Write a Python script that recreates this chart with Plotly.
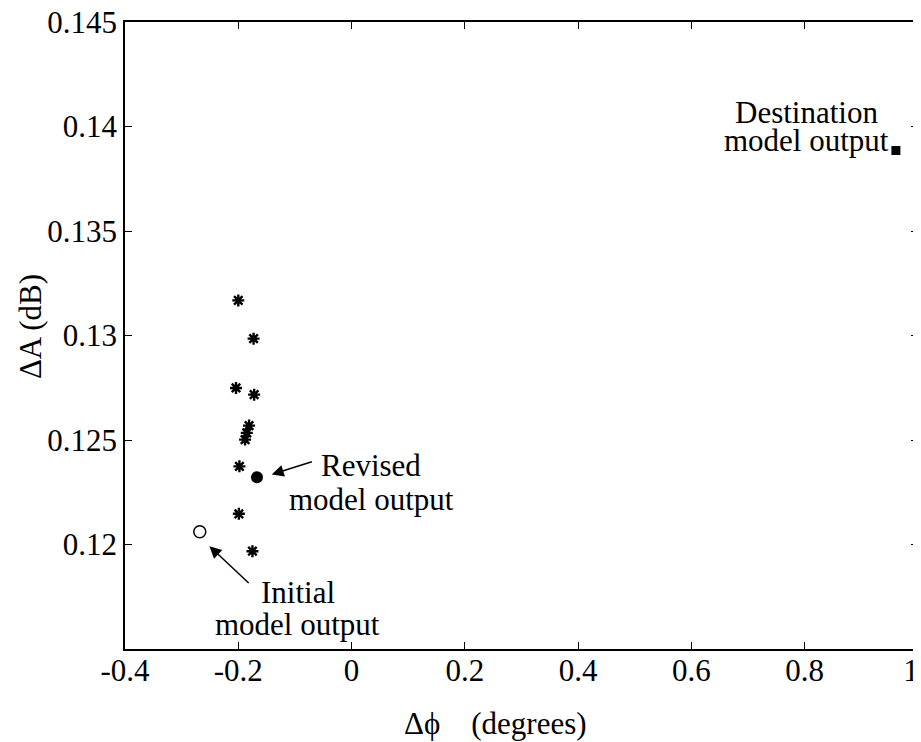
import plotly.graph_objects as go

# Data
iter_phase = [-0.200, -0.173, -0.204, -0.172, -0.181, -0.185, -0.188, -0.198, -0.199, -0.175]
iter_amp = [0.13168, 0.12985, 0.12749, 0.12717, 0.12569, 0.12534, 0.12502, 0.12374, 0.12147, 0.11968]
initial_phase = [-0.268]
initial_amp = [0.12061]
revised_phase = [-0.167]
revised_amp = [0.12322]
dest_phase = [0.961]
dest_amp = [0.13885]

x_ticks = [-0.4, -0.2, 0, 0.2, 0.4, 0.6, 0.8, 1]
x_ticklabels = ["-0.4", "-0.2", "0", "0.2", "0.4", "0.6", "0.8", "1\u00a0\u2009"]
y_ticks = [0.12, 0.125, 0.13, 0.135, 0.14, 0.145]
y_ticklabels = ["0.12", "0.125", "0.13", "0.135", "0.14", "0.145"]

FONT = "Liberation Serif"
FS = 31

fig = go.Figure()
fig.add_trace(go.Scatter(x=iter_phase, y=iter_amp, mode="markers",
                         marker=dict(symbol="asterisk-open", size=10, color="black",
                                     line=dict(color="black", width=2.4)),
                         showlegend=False))
fig.add_trace(go.Scatter(x=initial_phase, y=initial_amp, mode="markers",
                         marker=dict(symbol="circle-open", size=12, color="black",
                                     line=dict(color="black", width=1.5)),
                         showlegend=False))
fig.add_trace(go.Scatter(x=revised_phase, y=revised_amp, mode="markers",
                         marker=dict(symbol="circle", size=12, color="black"),
                         showlegend=False))
fig.add_trace(go.Scatter(x=dest_phase, y=dest_amp, mode="markers",
                         marker=dict(symbol="square", size=9, color="black"),
                         showlegend=False))

def txt(x, y, s):
    return dict(x=x, y=y, xref="x", yref="y", text=s, showarrow=False,
                font=dict(family=FONT, size=FS, color="black"),
                xanchor="center", yanchor="middle")

def arrow(x, y, ax, ay):
    return dict(x=x, y=y, ax=ax, ay=ay, xref="x", yref="y", axref="x", ayref="y",
                text="", showarrow=True, arrowhead=2, arrowsize=1.6, arrowwidth=1.5,
                arrowcolor="black", standoff=0)

annotations = [
    txt(0.0343, 0.12380, "Revised"),
    txt(0.0343, 0.12213, "model output"),
    txt(-0.0946, 0.11768, "Initial"),
    txt(-0.0946, 0.11615, "model output"),
    txt(0.804, 0.14069, "Destination"),
    txt(0.804, 0.13935, "model output"),
    arrow(-0.141, 0.12335, -0.0675, 0.12398),
    arrow(-0.251, 0.11992, -0.179, 0.11809),
    # axis titles
    dict(x=0.4666, y=0, xref="paper", yref="paper", yshift=-74, text="Δϕ    (degrees)",
         showarrow=False, font=dict(family=FONT, size=FS, color="black"),
         xanchor="center", yanchor="middle"),
    dict(x=-0.1198, y=0.515, xref="paper", yref="paper", text="ΔA (dB)", textangle=-90,
         showarrow=False, font=dict(family=FONT, size=FS, color="black"),
         xanchor="center", yanchor="middle"),
]

# the page places the figure 8 px in from the top-left corner
fig.update_layout(
    width=913, height=734,
    margin=dict(l=117, r=3, t=14, b=93),
    paper_bgcolor="white", plot_bgcolor="white",
    font=dict(family=FONT, size=FS, color="black"),
    annotations=annotations,
    xaxis=dict(range=[-0.4, 1], tickvals=x_ticks, ticktext=x_ticklabels,
               ticks="inside", ticklen=7, tickwidth=1, tickcolor="black",
               showline=True, linecolor="black", linewidth=1.5, mirror="allticks",
               showgrid=False, zeroline=False, automargin=False,
               ticklabeloverflow="allow", ticklabelstandoff=-7),
    yaxis=dict(range=[0.115, 0.145], tickvals=y_ticks, ticktext=y_ticklabels,
               ticks="inside", ticklen=7, tickwidth=1, tickcolor="black",
               showline=True, linecolor="black", linewidth=1.5, mirror="allticks",
               showgrid=False, zeroline=False, automargin=False,
               ticklabeloverflow="allow"),
)

fig.write_html("out.html")
